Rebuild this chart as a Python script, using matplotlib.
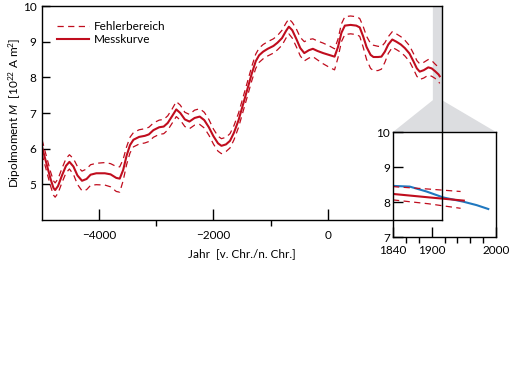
import matplotlib.pyplot as plt
from matplotlib.patches import Polygon
import numpy as np

plt.rcParams['font.family'] = ['Lato', 'DejaVu Sans']
plt.rcParams['mathtext.fontset'] = 'custom'
plt.rcParams['mathtext.it'] = 'Lato:italic'
plt.rcParams['mathtext.rm'] = 'Lato'

# main curve: year, dipole moment (10^22 A m^2)
years = [-5000, -4950, -4900, -4850, -4800, -4770, -4720, -4650, -4580, -4520,
         -4450, -4380, -4300, -4220, -4150, -4050, -3900, -3800, -3700, -3640,
         -3580, -3520, -3460, -3400, -3300, -3200, -3130, -3050, -2950, -2870,
         -2800, -2720, -2650, -2580, -2500, -2420, -2330, -2240, -2160, -2080,
         -2000, -1920, -1860, -1780, -1710, -1640, -1560, -1480, -1400, -1330,
         -1260, -1200, -1130, -1050, -950, -880, -800, -730, -680, -620,
         -550, -480, -410, -330, -260, -180, -80, 40, 120, 180,
         240, 300, 400, 500, 560, 620, 680, 750, 800, 880,
         940, 1000, 1060, 1130, 1200, 1280, 1350, 1430, 1500, 1560,
         1610, 1680, 1760, 1820, 1880, 1940, 1960]
moment = [6.05, 5.75, 5.45, 5.15, 4.9, 4.84, 4.95, 5.25, 5.52, 5.63,
          5.5, 5.25, 5.1, 5.15, 5.27, 5.31, 5.31, 5.28, 5.18, 5.16,
          5.4, 5.8, 6.1, 6.25, 6.33, 6.36, 6.4, 6.52, 6.6, 6.62,
          6.72, 6.92, 7.1, 7.0, 6.82, 6.76, 6.86, 6.9, 6.8, 6.6,
          6.35, 6.15, 6.08, 6.12, 6.22, 6.45, 6.8, 7.25, 7.7, 8.1,
          8.45, 8.62, 8.72, 8.8, 8.88, 8.97, 9.1, 9.3, 9.42, 9.32,
          9.08, 8.82, 8.68, 8.76, 8.8, 8.74, 8.68, 8.62, 8.58, 8.85,
          9.25, 9.45, 9.47, 9.45, 9.4, 9.15, 8.85, 8.63, 8.57, 8.57,
          8.58, 8.72, 8.92, 9.06, 9.0, 8.92, 8.82, 8.67, 8.45, 8.25,
          8.16, 8.2, 8.28, 8.25, 8.17, 8.08, 8.03]
err_up = [0.2, 0.2, 0.2, 0.2, 0.2, 0.2, 0.2, 0.2, 0.2, 0.2,
          0.22, 0.25, 0.27, 0.28, 0.28, 0.28, 0.3, 0.3, 0.32, 0.33,
          0.3, 0.25, 0.22, 0.2, 0.2, 0.2, 0.2, 0.2, 0.2, 0.2,
          0.2, 0.2, 0.22, 0.22, 0.2, 0.2, 0.22, 0.22, 0.22, 0.22,
          0.2, 0.2, 0.2, 0.2, 0.2, 0.2, 0.2, 0.2, 0.2, 0.2,
          0.2, 0.2, 0.2, 0.2, 0.2, 0.2, 0.22, 0.22, 0.22, 0.22,
          0.28, 0.3, 0.32, 0.3, 0.28, 0.28, 0.28, 0.25, 0.22, 0.22,
          0.25, 0.25, 0.25, 0.25, 0.25, 0.28, 0.3, 0.32, 0.33, 0.3,
          0.28, 0.25, 0.22, 0.22, 0.22, 0.22, 0.22, 0.22, 0.22, 0.22,
          0.22, 0.22, 0.22, 0.22, 0.2, 0.2, 0.2]
err_dn = [0.2, 0.2, 0.2, 0.2, 0.2, 0.2, 0.2, 0.2, 0.2, 0.2,
          0.22, 0.25, 0.28, 0.3, 0.3, 0.32, 0.33, 0.35, 0.38, 0.38,
          0.3, 0.25, 0.22, 0.2, 0.2, 0.2, 0.2, 0.2, 0.2, 0.2,
          0.2, 0.2, 0.2, 0.2, 0.2, 0.2, 0.2, 0.22, 0.22, 0.22,
          0.22, 0.22, 0.22, 0.2, 0.2, 0.2, 0.2, 0.2, 0.2, 0.2,
          0.2, 0.2, 0.2, 0.2, 0.2, 0.2, 0.2, 0.2, 0.2, 0.22,
          0.22, 0.22, 0.22, 0.22, 0.22, 0.25, 0.3, 0.35, 0.37, 0.3,
          0.25, 0.25, 0.25, 0.25, 0.25, 0.3, 0.35, 0.38, 0.38, 0.38,
          0.35, 0.3, 0.25, 0.22, 0.22, 0.22, 0.22, 0.22, 0.22, 0.22,
          0.22, 0.22, 0.22, 0.22, 0.2, 0.2, 0.2]

# inset: 1840-2000
ins_years = [1840, 1866, 1892, 1918, 1949, 1970, 1988]
ins_blue = [8.46, 8.44, 8.30, 8.13, 8.01, 7.91, 7.80]
ins_red_years = [1840, 1897, 1950]
ins_red = [8.23, 8.13, 8.04]
ins_up = [8.44, 8.37, 8.30]
ins_dn = [8.06, 7.95, 7.82]
ins_dash_years = [1840, 1895, 1945]

red = '#c00d1e'
blue = '#1f78c0'
dash = (0, (5, 3.5))

fig = plt.figure(figsize=(5.15, 3.81), dpi=100)
ax = fig.add_axes([42/515, 1-220/381, 400/515, 214/381], zorder=2)
axin = fig.add_axes([393/515, 1-237/381, 103/515, 105/381], zorder=1)
ax.set_facecolor('none')

m = np.array(moment)
ax.plot(years, m + np.array(err_up), color=red, lw=0.9, ls=dash, label='Fehlerbereich')
ax.plot(years, m - np.array(err_dn), color=red, lw=0.9, ls=dash)
ax.plot(years, m, color=red, lw=1.5, label='Messkurve')

ax.set_xlim(-5000, 2000)
ax.set_ylim(4, 10)
ax.set_xticks([-4000, -2000, 0])
ax.set_xticks([-3000, -1000], minor=True)
ax.set_yticks([5, 6, 7, 8, 9, 10])
ax.tick_params(axis='both', direction='in', labelsize=8.5, width=1.0)
ax.tick_params(axis='x', which='major', length=8, pad=7)
ax.tick_params(axis='x', which='minor', length=4.5, width=1.0)
ax.tick_params(axis='y', length=6, pad=4)
ax.set_xticklabels(['\u22124000', '\u22122000', '0'])
for s in ax.spines.values():
    s.set_linewidth(1.0)
ax.set_xlabel('Jahr  [v. Chr./n. Chr.]', fontsize=8.5, labelpad=5)
ax.set_ylabel('Dipolmoment $M$  [10$^{22}$ A m$^2$]', fontsize=8.5, labelpad=0)
ax.legend(loc='upper left', bbox_to_anchor=(0.012, 0.98), frameon=False,
          fontsize=8.5, handlelength=2.7, handletextpad=0.35, labelspacing=0.2)

axin.plot(ins_years, ins_blue, color=blue, lw=1.5)
axin.plot(ins_red_years, ins_red, color=red, lw=1.5)
axin.plot(ins_dash_years, ins_up, color=red, lw=0.9, ls=dash)
axin.plot(ins_dash_years, ins_dn, color=red, lw=0.9, ls=dash)
axin.set_xlim(1840, 2000)
axin.set_ylim(7, 10)
axin.set_xticks([1840, 1900, 2000])
axin.set_xticks([1860, 1880, 1920, 1940, 1960, 1980], minor=True)
axin.set_yticks([7, 8, 9, 10])
axin.tick_params(axis='both', direction='in', labelsize=8.5, width=1.0)
axin.tick_params(axis='x', which='major', length=7, pad=6)
axin.tick_params(axis='x', which='minor', length=4, width=1.0)
axin.tick_params(axis='y', length=7, pad=2)
for s in axin.spines.values():
    s.set_linewidth(1.0)

# grey connector from main axes to inset
fig.canvas.draw()
inv = fig.transFigure.inverted()
pts = [ax.transData.transform((1840, 10)), ax.transData.transform((2000, 10)),
       ax.transData.transform((2000, 7.36)), axin.transData.transform((2000, 10)),
       axin.transData.transform((1840, 10)), ax.transData.transform((1840, 7.36))]
pts = inv.transform(np.array(pts))
fig.patches.append(Polygon(pts, closed=True, transform=fig.transFigure,
                           facecolor='#dcdde0', edgecolor='none', zorder=0.5))

fig.savefig('out.png', dpi=100)
